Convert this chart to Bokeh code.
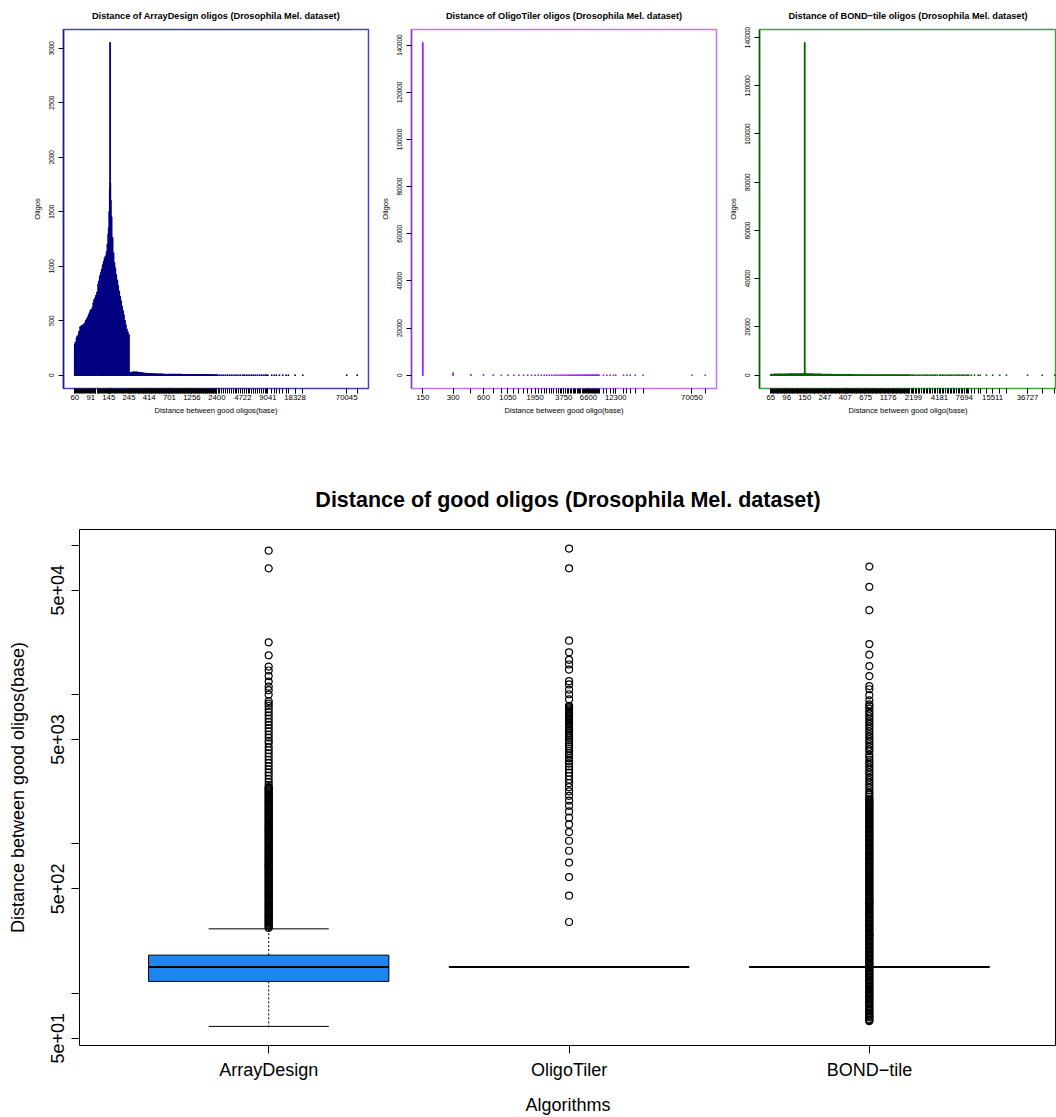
import math
from bokeh.plotting import figure
from bokeh.layouts import column, row
from bokeh.models import Range1d, FixedTicker, BasicTickFormatter
from bokeh.embed import file_html
from bokeh.resources import INLINE

FONT = "Liberation Sans"

# ---------------- data ----------------
# ArrayDesign: distinct distances (bases) and number of oligos at each distance
ad_dist = [60, 61, 63, 64, 66, 67, 69, 71, 72, 74, 76, 78, 80, 82, 84, 86, 88, 90, 91, 92,
           95, 97, 99, 102, 104, 107, 110, 112, 115, 118, 121, 124, 127, 130, 133, 137, 140, 143, 145, 147,
           149, 150, 151, 153, 156, 160, 164, 168, 172, 176, 181, 185, 190, 195, 200, 205, 210, 215, 221, 226,
           232, 238, 245,
           248, 252, 256, 260, 265, 270, 274, 279, 284, 289, 294, 299, 304, 310, 315, 321, 326, 332, 337, 343,
           349, 355, 361, 368, 374, 380, 387, 393, 400, 407, 414, 421, 429, 436, 444, 451, 459, 467, 475, 483,
           492, 500, 509, 518, 527, 536, 545, 555, 564, 574, 584, 594, 604, 615, 625, 636, 647, 658, 670, 681,
           693, 701, 709, 721, 733, 742, 755, 768, 781, 795, 809, 823, 837, 852, 866, 881, 897, 912, 928, 944,
           961, 977, 994, 1011, 1029, 1047, 1065, 1083, 1102, 1121, 1141, 1160, 1180, 1201, 1222, 1243, 1256, 1275, 1297, 1320,
           1343, 1366, 1390, 1414, 1439, 1464, 1489, 1515, 1541, 1568, 1595, 1623, 1651, 1680, 1709, 1739, 1769, 1800, 1831, 1863,
           1895, 1928, 1962, 1996, 2031, 2066, 2102, 2139, 2176, 2214, 2253, 2292, 2332, 2373, 2400, 2480, 2600, 2730, 2870, 3010,
           3160, 3320, 3490, 3660, 3850, 4040, 4240, 4450, 4722, 4900, 5150, 5400, 5680, 5960, 6260, 6570, 6900, 7250, 7610, 7990,
           8390, 8700, 9041, 10000, 10700, 11300, 12200, 13300, 14500, 15400, 18328, 22400, 70045, 92000]
ad_count = [280, 300, 340, 355, 370, 400, 440, 448, 452, 458, 466, 478, 500, 515, 530, 550, 570, 590, 595, 600,
            620, 660, 690, 710, 730, 760, 830, 860, 910, 940, 970, 1010, 1040, 1070, 1090, 1130, 1200, 1290, 1350, 1500,
            1700, 3050, 1760, 1600, 1450, 1260, 1120, 1030, 980, 920, 870, 820, 770, 720, 680, 630, 590, 550, 500, 460,
            420, 395, 370,
            18, 20, 22, 23, 24, 25, 25, 26, 26, 26, 26, 25, 25, 24, 23, 22, 21, 20, 19, 18,
            17, 16, 16, 15, 15, 14, 14, 13, 13, 12, 12, 11, 11, 11, 10, 10, 10, 9, 9, 9,
            9, 8, 8, 8, 8, 8, 7, 7, 7, 7, 7, 7, 6, 6, 6, 6, 6, 6, 6, 5,
            5, 5, 5, 5, 5, 5, 5, 5, 4, 4, 4, 4, 4, 4, 4, 4, 4, 4, 4, 4,
            4, 3, 3, 3, 3, 3, 3, 3, 3, 3, 3, 3, 3, 3, 3, 3, 3, 2, 2, 2,
            2, 2, 2, 2, 2, 2, 2, 2, 2, 2, 2, 2, 2, 2, 2, 2, 2, 2, 2, 2,
            2, 2, 2, 2, 1, 1, 1, 1, 1, 1, 1, 1, 1, 1, 1, 1, 1, 1, 1, 1,
            1, 1, 1, 1, 1, 1, 1, 1, 1, 1, 1, 1, 1, 1, 1, 1, 1, 1, 1, 1,
            1, 1, 1, 1, 1, 1, 1, 1, 1, 1, 1, 1, 1, 1]
ad_labels = [60, 91, 145, 245, 414, 701, 1256, 2400, 4722, 9041, 18328, 70045]
ad_yticks = [0, 500, 1000, 1500, 2000, 2500, 3000]

# OligoTiler
ot_dist = [150, 300, 450, 600, 750, 900, 1050, 1200, 1350, 1500, 1650, 1800, 1950, 2100, 2250, 2400,
           2550, 2700, 2850, 3000, 3150, 3300, 3450, 3600, 3750, 3900, 4050, 4200, 4350, 4500, 4650, 4800,
           4950, 5100, 5250, 5400, 5550, 5700, 5850, 6000, 6150, 6300, 6450, 6600, 6750, 6900, 7050, 7200,
           7350, 7500, 7650, 7800, 7950, 8100, 8250, 8400,
           9300, 10050, 10800, 11700, 12300, 14700, 15900, 17100, 19200, 22950, 70050, 94950]
ot_count = [141000, 850, 200, 120, 80, 60, 50, 45, 40, 36, 33, 30, 28, 26, 24, 22,
            20, 19, 18, 17, 16, 15, 14, 13, 12, 11, 10, 10, 9, 9, 8, 8,
            7, 7, 6, 6, 6, 5, 5, 5, 4, 4, 4, 4, 3, 3, 3, 3,
            2, 2, 2, 2, 2, 2, 1, 1,
            1, 1, 1, 1, 1, 1, 1, 1, 1, 1, 1, 1]
ot_labels = [150, 300, 600, 1050, 1950, 3750, 6600, 12300, 70050]
ot_yticks = [0, 20000, 40000, 60000, 80000, 100000, 120000, 140000]

# BOND-tile
bt_dist = [65, 66, 67, 69, 70, 71, 73, 74, 76, 77, 79, 80, 82, 84, 85, 87, 89, 91, 92, 94,
           96, 98, 100, 102, 104, 106, 108, 110, 112, 115, 117, 119, 122, 124, 127, 129, 132, 135, 137, 140,
           143, 146, 148, 150, 152, 155, 158, 161, 165, 168, 171, 175, 178, 182, 186, 189, 193, 197, 201, 205,
           209, 213, 218, 222, 226, 231, 236, 240, 244, 247, 250, 255, 260, 266, 271, 276, 282, 288, 293, 299,
           305, 311, 318, 324, 331, 337, 344, 351, 358, 365, 372, 380, 387, 395, 403, 407, 411, 419, 428, 436,
           445, 454, 463, 472, 482, 491, 501, 511, 521, 532, 542, 553, 564, 576, 587, 599, 611, 623, 636, 648,
           661, 675, 688, 702, 716, 730, 745, 760, 775, 790, 806, 822, 839, 855, 873, 890, 908, 926, 944, 963,
           983, 1002, 1022, 1043, 1064, 1085, 1107, 1129, 1152, 1176, 1198, 1222, 1247, 1272, 1297, 1323, 1350, 1377, 1404, 1432,
           1461, 1490, 1520, 1551, 1582, 1613, 1646, 1679, 1712, 1746, 1781, 1817, 1853, 1890, 1928, 1967, 2006, 2076, 2148, 2199,
           2287, 2379, 2474, 2573, 2676, 2783, 2894, 3010, 3130, 3256, 3386, 3521, 3662, 3809, 3961, 4181, 4300, 4472, 4651, 4837,
           5030, 5232, 5441, 5658, 5885, 6120, 6365, 6620, 6885, 7160, 7446, 7694, 8055, 8377, 8600, 9140, 9910, 10860, 11400, 13300,
           15511, 18500, 21800, 36727, 52700, 72000]
bt_count = [210, 240, 260, 270, 280, 290, 300, 310, 320, 325, 330, 335, 340, 345, 350, 355, 360, 365, 370, 375,
            380, 385, 390, 395, 400, 405, 410, 415, 420, 425, 430, 435, 440, 445, 450, 455, 460, 465, 470, 475,
            480, 485, 490, 137800, 490, 480, 470, 460, 450, 440, 430, 420, 410, 400, 390, 380, 370, 360, 350, 340,
            330, 320, 310, 300, 290, 280, 270, 260, 255, 250, 240, 230, 220, 210, 200, 195, 190, 185, 180, 175,
            170, 165, 160, 155, 150, 145, 140, 135, 130, 125, 120, 115, 110, 105, 100, 98, 96, 94, 92, 90,
            88, 86, 84, 82, 80, 78, 76, 74, 72, 70, 68, 66, 64, 62, 60, 58, 56, 54, 52, 50,
            48, 46, 44, 42, 40, 38, 36, 34, 32, 30, 29, 28, 27, 26, 25, 24, 23, 22, 21, 20,
            19, 18, 17, 16, 15, 14, 13, 12, 11, 10, 10, 9, 9, 8, 8, 7, 7, 6, 6, 6,
            5, 5, 5, 5, 4, 4, 4, 4, 4, 3, 3, 3, 3, 3, 3, 3, 2, 2, 2, 2,
            2, 2, 2, 2, 2, 2, 2, 1, 1, 1, 1, 1, 1, 1, 1, 1, 1, 1, 1, 1,
            1, 1, 1, 1, 1, 1, 1, 1, 1, 1, 1, 1, 1, 1, 1, 1, 1, 1, 1, 1,
            1, 1, 1, 1, 1, 1]
bt_labels = [65, 96, 150, 247, 407, 675, 1176, 2199, 4181, 7694, 15511, 36727]
bt_yticks = [0, 20000, 40000, 60000, 80000, 100000, 120000, 140000]

# Box plot summary (lower whisker, Q1, median, Q3, upper whisker)
algorithms = ["ArrayDesign", "OligoTiler", "BOND\u2212tile"]
box_lo = [60, 150, 150]
box_q1 = [120, 150, 150]
box_med = [150, 150, 150]
box_q3 = [180, 150, 150]
box_hi = [270, 150, 150]
box_colors = ["#1C86EE", "#1C86EE", "#1C86EE"]
box_y_ticks = [50, 500, 5000, 50000]
box_y_labels = ["5e+01", "5e+02", "5e+03", "5e+04"]
box_y_minor = [100, 1000, 10000, 100000]

TOP_H = 426


def hist_panel(dist, count, labels, yticks, title, xlabel, bar_color, frame_color, left_color,
               width, border_left, border_right, x_crop=1.0, title_offset=0):
    lo, hi = math.log10(min(dist)), math.log10(max(dist))
    ext = 0.04 * (hi - lo)
    x0 = 10 ** (lo - ext)
    x1 = 10 ** (lo - ext + (hi - lo + 2 * ext) * x_crop)
    ymax = max(count)
    p = figure(width=width, height=TOP_H, x_axis_type="log",
               x_range=Range1d(x0, x1),
               y_range=Range1d(-0.04 * ymax, ymax * 1.04),
               output_backend="svg", toolbar_location=None,
               min_border_left=border_left, min_border_right=border_right,
               min_border_top=29, min_border_bottom=38)
    p.segment(x0=dist, y0=[0] * len(dist), x1=dist, y1=count,
              line_color=bar_color, line_width=1.8, line_cap="round")
    p.title.text = title
    p.title.text_font = FONT
    p.title.text_font_size = "9.2px"
    p.title.text_font_style = "bold"
    p.title.text_color = "black"
    p.title.align = "center"
    p.title.offset = title_offset
    p.title.standoff = 17
    p.xgrid.visible = False
    p.ygrid.visible = False
    p.outline_line_color = frame_color
    p.outline_line_width = 1.5
    p.background_fill_color = "white"
    p.border_fill_color = "white"

    xa = p.xaxis[0]
    xa.ticker = FixedTicker(ticks=labels, minor_ticks=dist)
    xa.major_label_overrides = {v: str(v) for v in labels}
    xa.axis_line_color = None
    xa.major_tick_out = 5
    xa.major_tick_in = 0
    xa.minor_tick_out = 5
    xa.minor_tick_in = 0
    xa.major_tick_line_color = "black"
    xa.minor_tick_line_color = "black"
    xa.major_label_text_font = FONT
    xa.major_label_text_font_size = "7.8px"
    xa.major_label_text_color = "black"
    xa.major_label_standoff = 1
    xa.axis_label = xlabel
    xa.axis_label_text_font = FONT
    xa.axis_label_text_font_size = "7.6px"
    xa.axis_label_text_font_style = "normal"
    xa.axis_label_text_color = "black"
    xa.axis_label_standoff = 3

    ya = p.yaxis[0]
    ya.ticker = FixedTicker(ticks=yticks)
    ya.formatter = BasicTickFormatter(use_scientific=False)
    ya.axis_line_color = left_color
    ya.axis_line_width = 1.5
    ya.major_tick_out = 5
    ya.major_tick_in = 0
    ya.major_tick_line_color = "black"
    ya.minor_tick_line_color = None
    ya.major_label_orientation = "vertical"
    ya.major_label_text_font = FONT
    ya.major_label_text_font_size = "6.4px"
    ya.major_label_text_color = "black"
    ya.major_label_standoff = 4
    ya.axis_label = "Oligos"
    ya.axis_label_text_font = FONT
    ya.axis_label_text_font_size = "7.6px"
    ya.axis_label_text_font_style = "normal"
    ya.axis_label_text_color = "black"
    ya.axis_label_standoff = 5
    return p


p1 = hist_panel(ad_dist, ad_count, ad_labels, ad_yticks,
                "Distance of ArrayDesign oligos (Drosophila Mel. dataset)",
                "Distance between good oligos(base)",
                "#000080", "#4444BB", "#1A1A8C", width=375, border_left=63, border_right=7)
p2 = hist_panel(ot_dist, ot_count, ot_labels, ot_yticks,
                "Distance of OligoTiler oligos (Drosophila Mel. dataset)",
                "Distance between good oligo(base)",
                "#A020F0", "#BB77FF", "#8A3CC8", width=349, border_left=36, border_right=8)
p3 = hist_panel(bt_dist, bt_count, bt_labels, bt_yticks,
                "Distance of BOND\u2212tile oligos (Drosophila Mel. dataset)",
                "Distance between good oligo(base)",
                "#006400", "#44A044", "#0B5A0B", width=332, border_left=35, border_right=0,
                x_crop=297.0 / 306.7, title_offset=4.7)

# ---------------- box plot ----------------
all_dist = ad_dist + ot_dist + bt_dist
lo, hi = math.log10(min(all_dist)), math.log10(max(all_dist))
ext = 0.04 * (hi - lo)
p4 = figure(width=1056, height=691, y_axis_type="log",
            x_range=Range1d(0.37, 3.623), y_range=Range1d(10 ** (lo - ext), 10 ** (hi + ext)),
            output_backend="svg", toolbar_location=None,
            min_border_left=79, min_border_right=0, min_border_top=103, min_border_bottom=71)
p4.xgrid.visible = False
p4.ygrid.visible = False
p4.outline_line_color = "black"
p4.outline_line_width = 1
p4.background_fill_color = "white"
p4.border_fill_color = "white"

pos = [i + 1 for i in range(len(algorithms))]
bw = 0.8
p4.vbar(x=pos, width=bw, bottom=box_q1, top=box_q3, fill_color=box_colors,
        line_color="black", line_width=1)
p4.segment(x0=[x - bw / 2 for x in pos], y0=box_med, x1=[x + bw / 2 for x in pos], y1=box_med,
           line_color="black", line_width=2)
p4.segment(x0=pos, y0=box_q3, x1=pos, y1=box_hi, line_color="black", line_width=1, line_dash="2 2")
p4.segment(x0=pos, y0=box_q1, x1=pos, y1=box_lo, line_color="black", line_width=1, line_dash="2 2")
p4.segment(x0=[x - bw / 4 for x in pos], y0=box_hi, x1=[x + bw / 4 for x in pos], y1=box_hi,
           line_color="black", line_width=1)
p4.segment(x0=[x - bw / 4 for x in pos], y0=box_lo, x1=[x + bw / 4 for x in pos], y1=box_lo,
           line_color="black", line_width=1)

out_x, out_y = [], []
for i, dist in enumerate([ad_dist, ot_dist, bt_dist]):
    for d in dist:
        if d > box_hi[i] or d < box_lo[i]:
            out_x.append(pos[i])
            out_y.append(d)
p4.scatter(x=out_x, y=out_y, marker="circle", size=7, fill_color=None,
           line_color="black", line_width=1.2)

p4.title.text = "Distance of good oligos (Drosophila Mel. dataset)"
p4.title.text_font = FONT
p4.title.text_font_size = "21.5px"
p4.title.text_font_style = "bold"
p4.title.text_color = "black"
p4.title.align = "center"
p4.title.offset = 5.5
p4.title.standoff = 35

xa = p4.xaxis[0]
xa.ticker = FixedTicker(ticks=pos)
xa.major_label_overrides = {p: a for p, a in zip(pos, algorithms)}
xa.axis_line_color = None
xa.major_tick_out = 8
xa.major_tick_in = 0
xa.major_tick_line_color = "black"
xa.minor_tick_line_color = None
xa.major_label_text_font = FONT
xa.major_label_text_font_size = "18px"
xa.major_label_text_color = "black"
xa.major_label_standoff = 6
xa.axis_label = "Algorithms"
xa.axis_label_text_font = FONT
xa.axis_label_text_font_size = "18px"
xa.axis_label_text_font_style = "normal"
xa.axis_label_text_color = "black"
xa.axis_label_standoff = 12

ya = p4.yaxis[0]
ya.ticker = FixedTicker(ticks=box_y_ticks, minor_ticks=box_y_minor)
ya.major_label_overrides = {t: l for t, l in zip(box_y_ticks, box_y_labels)}
ya.axis_line_color = None
ya.major_tick_out = 8
ya.major_tick_in = 0
ya.minor_tick_out = 8
ya.minor_tick_in = 0
ya.major_tick_line_color = "black"
ya.minor_tick_line_color = "black"
ya.major_label_orientation = "vertical"
ya.major_label_text_font = FONT
ya.major_label_text_font_size = "18px"
ya.major_label_text_color = "black"
ya.major_label_standoff = 7
ya.axis_label = "Distance between good oligos(base)"
ya.axis_label_text_font = FONT
ya.axis_label_text_font_size = "18px"
ya.axis_label_text_font_style = "normal"
ya.axis_label_text_color = "black"
ya.axis_label_standoff = 21

layout = column(row(p1, p2, p3), p4)
open("out.html", "w").write(file_html(layout, INLINE))
